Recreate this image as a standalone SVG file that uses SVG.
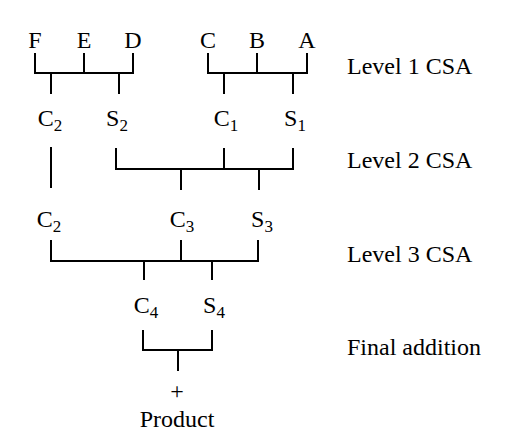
<svg xmlns="http://www.w3.org/2000/svg" width="512" height="446" viewBox="0 0 512 446">
<style>
text{font-family:"Liberation Serif","Times New Roman",serif;font-size:24px;fill:#000}
.m{text-anchor:middle}
.sub{font-size:17px}
.c path{fill:none;stroke:#000;stroke-width:2}
</style>
<rect width="512" height="446" fill="#fff"/>
<g id="inputs">
<text class="m" x="35" y="48">F</text>
<text class="m" x="84" y="48">E</text>
<text class="m" x="133" y="48">D</text>
<text class="m" x="208" y="48">C</text>
<text class="m" x="257" y="48">B</text>
<text class="m" x="307" y="48">A</text>
</g>
<g id="row2">
<text class="m" x="50" y="126">C<tspan class="sub" dy="5">2</tspan></text>
<text class="m" x="117" y="126">S<tspan class="sub" dy="5">2</tspan></text>
<text class="m" x="226" y="126">C<tspan class="sub" dy="5">1</tspan></text>
<text class="m" x="295" y="126">S<tspan class="sub" dy="5">1</tspan></text>
</g>
<g id="row3">
<text class="m" x="49" y="227">C<tspan class="sub" dy="5">2</tspan></text>
<text class="m" x="182" y="227">C<tspan class="sub" dy="5">3</tspan></text>
<text class="m" x="262" y="227">S<tspan class="sub" dy="5">3</tspan></text>
</g>
<g id="row4">
<text class="m" x="146" y="313">C<tspan class="sub" dy="5">4</tspan></text>
<text class="m" x="214" y="313">S<tspan class="sub" dy="5">4</tspan></text>
</g>
<g id="result">
<text class="m" x="177" y="399">+</text>
<text class="m" x="177" y="427">Product</text>
</g>
<g id="levels">
<text x="347" y="74">Level 1 CSA</text>
<text x="347" y="168">Level 2 CSA</text>
<text x="347" y="262">Level 3 CSA</text>
<text x="347" y="355">Final addition</text>
</g>
<g id="connectors" class="c">
<path d="M35,53V73H133V53M84,53V73M51,73V94M119,73V94"/>
<path d="M208,53V73H307V53M257,53V73M224,73V94M293,73V94"/>
<path d="M51,147V188"/>
<path d="M116,148V169H293V148M224,148V169M181,169V190M259,169V190"/>
<path d="M51,240V261H258V240M181,240V261M144,261V280M212,261V280"/>
<path d="M143,330V350H212V330M178,350V371"/>
</g>
</svg>
